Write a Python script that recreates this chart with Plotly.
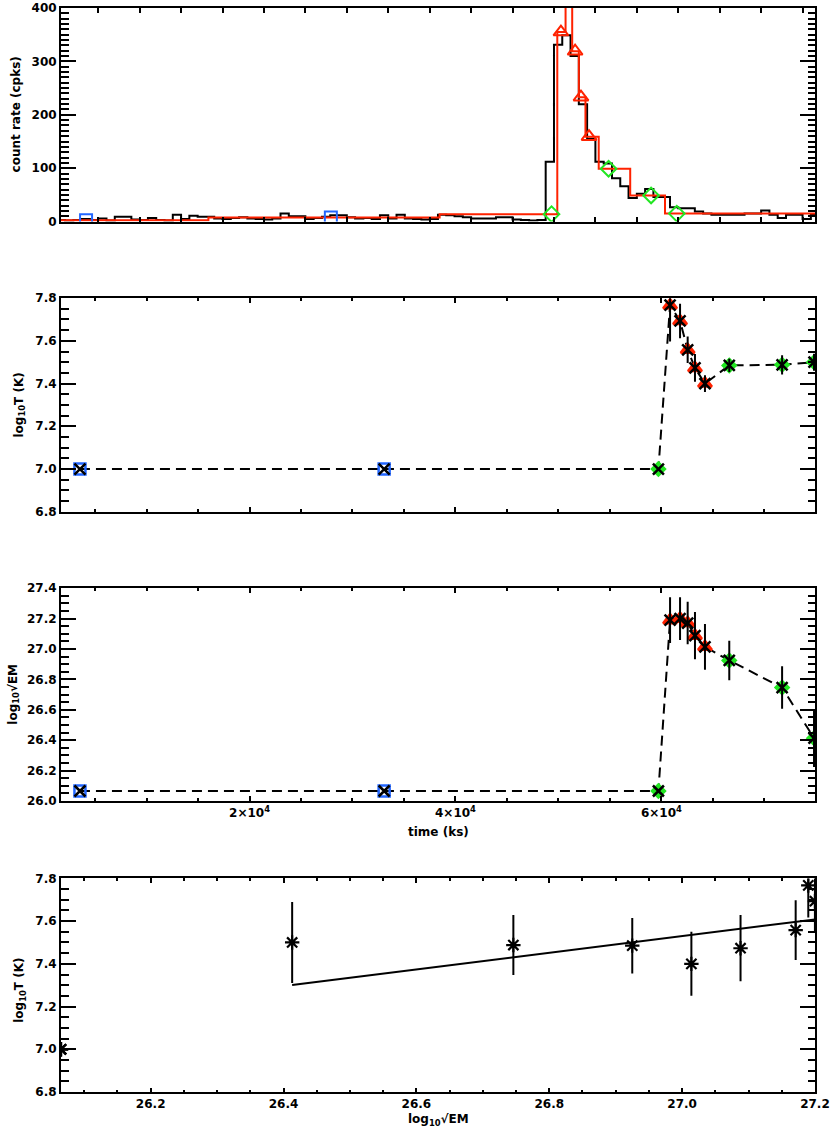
import numpy as np
import plotly.graph_objects as go

# ---------------- data ----------------
# light curve (top panel): 1 ks bins starting at t = 0
lc_bin_start = 0.0
lc_bin_width = 1000.0
lc_counts = [3, 2, 3, 5, 3, 6, 2, 9, 9, 4,
             3, 7, 3, 2, 13, 5, 11, 9, 9, 6,
             5, 7, 8, 6, 5, 4, 6, 15, 10, 10,
             5, 7, 9, 12, 12, 8, 6, 7, 5, 12,
             6, 13, 6, 5, 4, 5, 13, 12, 10, 8,
             6, 6, 6, 8, 8, 4, 3, 2, 3, 112,
             331, 349, 310, 220, 155, 112, 109, 81, 66, 44,
             52, 61, 46, 46, 27, 25, 25, 19, 15, 13,
             13, 13, 13, 15, 15, 21, 13, 7, 13, 13,
             5, 13]

# Bayesian blocks (red step line)
block_edges = [0, 18300, 46200, 60400, 61400, 62200, 63000, 63800, 65400, 69200, 73400, 92000]
block_rates = [2.5, 7.5, 14, 355, 440, 319, 233, 159, 99, 49, 15]

# time-resolved spectral fits
spec_time = [3535, 33075, 59709, 60840, 61810, 62550, 63260, 64230, 66590, 71720, 74820]
spec_group = ["blue", "blue", "green", "red", "red", "red", "red", "red", "green", "green", "green"]
log_T = [7.0, 7.0, 7.0, 7.767, 7.693, 7.558, 7.473, 7.40, 7.485, 7.488, 7.50]
log_T_err = [0, 0, 0, 0.17, 0.081, 0.062, 0.065, 0.039, 0.031, 0.045, 0.04]
log_sqrtEM = [26.065, 26.065, 26.065, 27.19, 27.20, 27.171, 27.088, 27.014, 26.925, 26.746, 26.413]
log_sqrtEM_err = [0, 0, 0, 0.15, 0.14, 0.14, 0.155, 0.15, 0.13, 0.14, 0.19]

# linear fit log T vs log sqrt(EM)
fit_slope = 0.39
fit_intercept = -3.0
fit_em_range = [26.413, 27.20]

time_tickvals = [20000, 40000, 60000]
time_ticktext = ["2×10<sup>4</sup>", "4×10<sup>4</sup>", "6×10<sup>4</sup>"]
em_tickvals = [26.2, 26.4, 26.6, 26.8, 27.0, 27.2]
em_ticktext = ["26.2", "26.4", "26.6", "26.8", "27.0", "27.2"]

# ---------------- styles ----------------
COL = {"blue": "#2266ff", "red": "#ff2200", "green": "#22e622"}
BLACK = "black"
FONT = "DejaVu Sans"

fig = go.Figure()

# ---------- panel 1: light curve ----------
edges = lc_bin_start + lc_bin_width * np.arange(len(lc_counts) + 1)
fig.add_trace(go.Scatter(x=edges, y=list(lc_counts) + [lc_counts[-1]], mode="lines",
                         line=dict(color=BLACK, width=2, shape="hv"),
                         xaxis="x", yaxis="y", showlegend=False))
fig.add_trace(go.Scatter(x=block_edges, y=list(block_rates) + [block_rates[-1]], mode="lines",
                         line=dict(color=COL["red"], width=2, shape="hv"),
                         xaxis="x", yaxis="y", showlegend=False))
idx = np.searchsorted(block_edges, spec_time, side="right") - 1
marker_rate = [block_rates[i] for i in idx]
top_sym = {"blue": "square-open", "red": "triangle-up-open", "green": "diamond-open"}
top_size = {"blue": 12, "red": 13, "green": 12}
for g in ["blue", "red", "green"]:
    sel = [i for i, s in enumerate(spec_group) if s == g]
    fig.add_trace(go.Scatter(x=[spec_time[i] for i in sel], y=[marker_rate[i] for i in sel],
                             mode="markers",
                             marker=dict(symbol=top_sym[g], size=top_size[g], color=COL[g],
                                         line=dict(color=COL[g], width=2)),
                             xaxis="x", yaxis="y", showlegend=False))

# ---------- panels 2 & 3 ----------
mid_sym = {"blue": "square-open", "red": "triangle-up", "green": "diamond"}
mid_size = {"blue": 11, "red": 12, "green": 10}
for yvals, yerr, ax in [(log_T, log_T_err, "2"), (log_sqrtEM, log_sqrtEM_err, "3")]:
    fig.add_trace(go.Scatter(x=spec_time, y=yvals, mode="lines",
                             line=dict(color=BLACK, width=2, dash="10px,6px"),
                             xaxis="x" + ax, yaxis="y" + ax, showlegend=False))
    for g in ["blue", "red", "green"]:
        sel = [i for i, s in enumerate(spec_group) if s == g]
        fig.add_trace(go.Scatter(x=[spec_time[i] for i in sel], y=[yvals[i] for i in sel],
                                 mode="markers",
                                 marker=dict(symbol=mid_sym[g], size=mid_size[g], color=COL[g],
                                             line=dict(color=COL[g], width=2.5)),
                                 xaxis="x" + ax, yaxis="y" + ax, showlegend=False))
    fig.add_trace(go.Scatter(x=spec_time, y=yvals, mode="markers",
                             marker=dict(symbol="x-thin-open", size=11, color=BLACK,
                                         line=dict(color=BLACK, width=2.5)),
                             error_y=dict(type="data", array=yerr, thickness=2, width=0, color=BLACK),
                             xaxis="x" + ax, yaxis="y" + ax, showlegend=False))

# ---------- panel 4 ----------
fit_x = np.array(fit_em_range)
fig.add_trace(go.Scatter(x=fit_x, y=fit_slope * fit_x + fit_intercept, mode="lines",
                         line=dict(color=BLACK, width=2),
                         xaxis="x4", yaxis="y4", showlegend=False))
fig.add_trace(go.Scatter(x=log_sqrtEM, y=log_T, mode="markers",
                         marker=dict(symbol="asterisk-open", size=12, color=BLACK,
                                     line=dict(color=BLACK, width=2.2)),
                         error_y=dict(type="data", array=log_sqrtEM_err, thickness=2, width=0, color=BLACK),
                         xaxis="x4", yaxis="y4", showlegend=False))

# ---------------- axes ----------------
def base_axis():
    return dict(showline=True, linewidth=2, linecolor=BLACK, mirror="allticks",
                ticks="inside", tickwidth=2, tickcolor=BLACK, showgrid=False, zeroline=False,
                ticklabeloverflow="allow")

def yaxis(domain, rng, dtick, mdtick, fmt, anchor):
    a = base_axis()
    a.update(domain=domain, range=rng, tick0=0, dtick=dtick, tickformat=fmt, ticklen=15,
             minor=dict(ticks="inside", ticklen=7.5, tickwidth=2, tickcolor=BLACK, tick0=0, dtick=mdtick),
             anchor=anchor)
    return a

def time_axis(rng, labels, anchor):
    a = base_axis()
    a.update(range=rng, domain=[0, 1], tickmode="array", tickvals=time_tickvals,
             ticktext=time_ticktext, showticklabels=labels, ticklen=4.5,
             minor=dict(ticks="inside", ticklen=2.5, tickwidth=2, tickcolor=BLACK,
                        tickmode="linear", tick0=0, dtick=5000),
             anchor=anchor)
    return a

H = 1091.0
def dom(top_px, bot_px):
    return [(1092 - bot_px) / H, (1092 - top_px) / H]

xa1 = base_axis()
xa1.update(range=[510, 91500], domain=[0, 1], tick0=0, dtick=5000, ticklen=4.5,
           showticklabels=False, anchor="y")

xa4 = base_axis()
xa4.update(range=[26.065, 27.2001], domain=[0, 1], tickmode="array", tickvals=em_tickvals,
           ticktext=em_ticktext, ticklen=4.5,
           minor=dict(ticks="inside", ticklen=2.5, tickwidth=2, tickcolor=BLACK,
                      tickmode="linear", tick0=0, dtick=0.05),
           anchor="y4")

fig.update_layout(
    width=831, height=1136,
    margin=dict(l=61, r=14, t=1, b=44),
    paper_bgcolor="white", plot_bgcolor="white",
    font=dict(family=FONT, size=12, color=BLACK, weight="bold"),
    showlegend=False,
    xaxis=xa1,
    yaxis=yaxis(dom(1, 216), [0, 400], 100, 10, "d", "x"),
    xaxis2=time_axis([1695, 74915], False, "y2"),
    yaxis2=yaxis(dom(293, 508), [6.8, 7.8], 0.2, 0.05, ".1f", "x2"),
    xaxis3=time_axis([1695, 74915], True, "y3"),
    yaxis3=yaxis(dom(585, 799), [26.0, 27.4], 0.2, 0.05, ".1f", "x3"),
    xaxis4=xa4,
    yaxis4=yaxis(dom(877, 1092), [6.8, 7.8], 0.2, 0.05, ".1f", "x4"),
)

def px_x(p):
    return (p - 61) / 756.0

def px_y(p):
    return (1092 - p) / H

titles = [
    ("count rate (cpks)", 16, 108, -90),
    ("log<sub>10</sub>T (K)", 20, 401, -90),
    ("log<sub>10</sub>√EM", 13, 692, -90),
    ("log<sub>10</sub>T (K)", 20, 990, -90),
    ("time (ks)", 439, 830, 0),
    ("log<sub>10</sub>√EM", 439, 1120, 0),
]
for txt, xp, yp, ang in titles:
    fig.add_annotation(text=txt, x=px_x(xp), y=px_y(yp), xref="paper", yref="paper",
                       xanchor="center", yanchor="middle", showarrow=False, textangle=ang,
                       font=dict(size=12, family=FONT, color=BLACK, weight="bold"))

fig.write_html("out.html", config={"displayModeBar": False},
               post_script="document.body.style.margin='0px';")
